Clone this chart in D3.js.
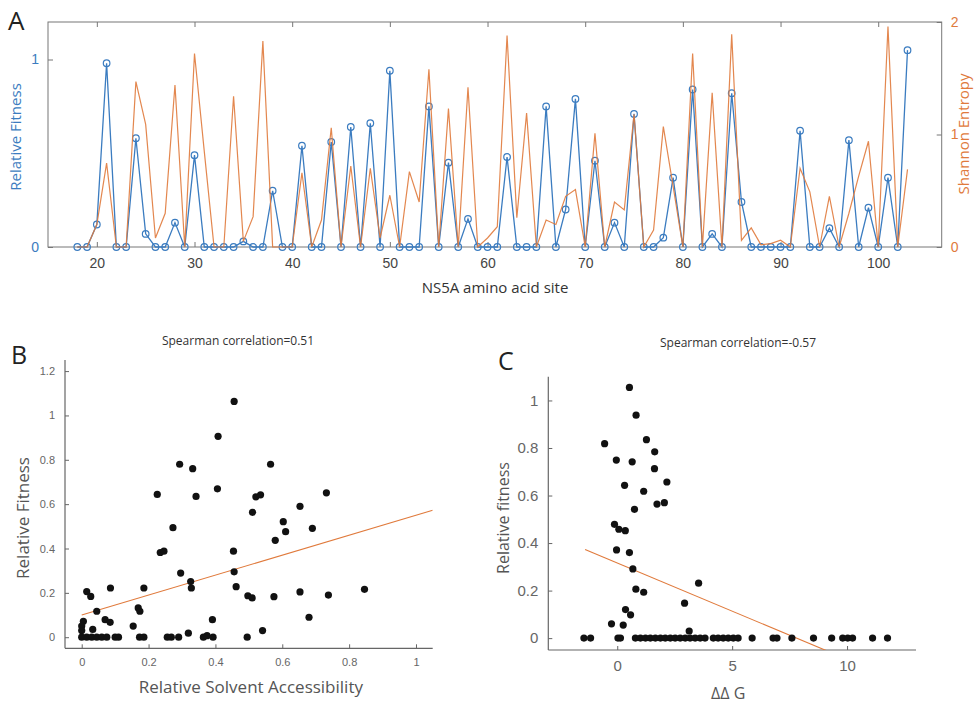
<!DOCTYPE html>
<html>
<head>
<meta charset="utf-8">
<script src="https://cdn.jsdelivr.net/npm/d3@7"></script>
<style>
  body { margin: 0; background: #fff; }
  svg { font-family: "Open Sans", "Noto Sans", sans-serif; }
</style>
</head>
<body>
<svg id="fig" width="976" height="704"></svg>
<script>
// colors (matlab-ish, a bit washed out like the scan)
var blue = "#3b7cc0";
var orange = "#e07a3c";
var gray = "#555";

// panel A data: NS5A sites 18..103
var sites = [18,19,20,21,22,23,24,25,26,27,28,29,30,31,32,33,34,35,36,37,38,39,40,
  41,42,43,44,45,46,47,48,49,50,51,52,53,54,55,56,57,58,59,60,61,62,63,64,65,66,67,
  68,69,70,71,72,73,74,75,76,77,78,79,80,81,82,83,84,85,86,87,88,89,90,91,92,93,94,
  95,96,97,98,99,100,101,102,103];
var fitness = [0,0,0.12,0.98,0,0,0.58,0.07,0,0,0.13,0,0.49,0,0,0,0,0.03,0,0,0.30,0,0,
  0.54,0,0,0.56,0,0.64,0,0.66,0,0.94,0,0,0,0.75,0,0.45,0,0.15,0,0,0,0.48,0,0,0,0.75,0,
  0.20,0.79,0,0.46,0,0.13,0,0.71,0,0,0.05,0.37,0,0.84,0,0.07,0,0.82,0.24,0,0,0,0,0,0.62,0,0,
  0.10,0,0.57,0,0.21,0,0.37,0,1.05];
var entropy = [0,0,0.2,0.745,0,0,1.47,1.09,0.08,0.3,1.44,0,1.72,0.85,0,0,1.34,0.05,0.27,1.83,0,0,0,
  0.66,0,0.24,1.06,0,0.72,0,0.70,0.08,0.46,0,0.67,0.40,1.58,0,1.23,0,1.42,0,0.08,0.18,1.88,0.26,1.19,0,0.24,0.2,
  0.45,0.51,0,1.01,0,0.40,0.33,1.18,0,0.15,1.07,0.54,0,1.72,0,1.37,0,1.89,0.06,0.17,0.02,0.03,0.06,0,0.70,0.49,0,
  0.45,0,0.30,0.63,0.94,0,1.96,0,0.69];
var siteTicks = [20,30,40,50,60,70,80,90,100];

// panel B: relative solvent accessibility vs fitness
var rsa = [0.456,0.408,0.293,0.332,0.565,0.406,0.226,0.342,0.732,0.521,0.535,0.511,0.653,0.603,0.61,0.69,
  0.579,0.273,0.235,0.246,0.454,0.296,0.456,0.326,0.328,0.462,0.497,0.51,0.575,0.653,0.738,0.846,0.68,0.541,
  0.495,0.391,0.319,0.364,0.375,0.393,0.256,0.268,0.29,0.186,0.169,0.174,0.154,0.173,0.186,0.086,0.015,0.027,
  0.045,0.07,0.085,0.005,0,0,0.033,0,0.015,0.03,0.045,0.06,0.075,0.1,0.11];
var rsaFit = [1.063,0.906,0.78,0.76,0.78,0.669,0.644,0.635,0.651,0.633,0.642,0.563,0.59,0.521,0.476,0.491,
  0.437,0.494,0.382,0.388,0.388,0.289,0.295,0.251,0.222,0.228,0.187,0.177,0.183,0.204,0.19,0.216,0.09,0.03,
  0,0.079,0.018,0,0.007,0,0,0,0,0.222,0.132,0.117,0.05,0,0,0.222,0.206,0.184,
  0.117,0.079,0.067,0.072,0.05,0.03,0.035,0,0,0,0,0,0,0,0];
var bLine = [0.10, 0.45]; // intercept, slope

// panel C: ddG vs fitness
var ddg = [0.53,0.82,-0.55,1.27,1.63,-0.04,0.65,1.62,2.16,0.32,1.15,1.73,2.05,0.75,-0.12,0.07,0.35,-0.03,0.53,
  0.68,0.81,1.15,3.54,2.93,0.36,0.58,-0.25,0.26,3.13,
  -1.45,-1.16,0.03,0.14,0.79,1.01,1.23,1.44,1.66,1.88,2.09,2.31,2.52,2.74,2.96,3.17,3.39,3.61,3.82,4.18,4.39,
  4.61,4.83,5.05,5.26,5.87,6.78,6.95,7.6,8.54,9.33,9.81,10.03,10.24,11.11,11.76];
var ddgFit = [1.055,0.938,0.818,0.835,0.784,0.749,0.742,0.713,0.657,0.643,0.618,0.564,0.57,0.542,0.479,0.458,0.452,0.371,0.36,
  0.291,0.206,0.193,0.231,0.147,0.12,0.098,0.06,0.055,0.03,
  0,0,0,0,0,0,0,0,0,0,0,0,0,0,0,0,0,0,0,0,0,0,0,0,0,0,0,0,0,0,0,0,0,0,0,0];
var cLine = [0.316, -0.0405];

var svg = d3.select("#fig");

// ---------- panel A ----------
var ax = d3.scaleLinear().domain([15, 106.5]).range([48, 941.7]);
var ayL = d3.scaleLinear().domain([0, 1.2]).range([247, 22]);
var ayR = d3.scaleLinear().domain([0, 2]).range([247, 22]);

var gA = svg.append("g");
gA.append("rect").attr("x", 48).attr("y", 22).attr("width", 941.7 - 48).attr("height", 225)
  .attr("fill", "none").attr("stroke", "#777").attr("stroke-width", 1);

// ticks bottom / top
gA.append("g").attr("transform", "translate(0,247)")
  .call(d3.axisBottom(ax).tickValues(siteTicks).tickSize(-5).tickPadding(11))
  .call(function(g){ g.select(".domain").remove(); });
gA.append("g").attr("transform", "translate(0,22)")
  .call(d3.axisTop(ax).tickValues(siteTicks).tickSize(-5).tickFormat(""))
  .call(function(g){ g.select(".domain").remove(); });
gA.append("g").attr("transform", "translate(48,0)")
  .call(d3.axisLeft(ayL).tickValues([0, 1]).tickSize(-5).tickPadding(9).tickFormat(d3.format("d")))
  .call(function(g){ g.select(".domain").remove(); g.selectAll("text").attr("fill", blue); });
gA.append("g").attr("transform", "translate(941.7,0)")
  .call(d3.axisRight(ayR).tickValues([0, 1, 2]).tickSize(-5).tickPadding(9).tickFormat(d3.format("d")))
  .call(function(g){ g.select(".domain").remove(); g.selectAll("text").attr("fill", orange); });
gA.selectAll(".tick line").attr("stroke", "#777");
gA.selectAll(".tick text").style("font-size", "14px").filter(function(){ return !this.getAttribute("fill") || this.getAttribute("fill") === "currentColor"; })
  .attr("fill", "#444");

var fitLine = d3.line().x(function(d, i){ return ax(sites[i]); }).y(function(d){ return ayL(d); });
var entLine = d3.line().x(function(d, i){ return ax(sites[i]); }).y(function(d){ return ayR(d); });

gA.append("path").datum(fitness).attr("d", fitLine)
  .attr("fill", "none").attr("stroke", blue).attr("stroke-width", 1.3);
gA.selectAll("circle.fit").data(fitness).enter().append("circle")
  .attr("class", "fit")
  .attr("cx", function(d, i){ return ax(sites[i]); })
  .attr("cy", function(d){ return ayL(d); })
  .attr("r", 3.3)
  .attr("fill", "none").attr("stroke", blue).attr("stroke-width", 1.2);
gA.append("path").datum(entropy).attr("d", entLine)
  .attr("fill", "none").attr("stroke", orange).attr("stroke-width", 1.2).attr("opacity", 0.9);

gA.append("text").attr("x", 17).attr("y", 137).attr("transform", "rotate(-90,17,137)")
  .attr("text-anchor", "middle").attr("dominant-baseline", "middle")
  .style("font-size", "15px").attr("fill", blue).text("Relative Fitness");
gA.append("text").attr("x", 965).attr("y", 134).attr("transform", "rotate(-90,965,134)")
  .attr("text-anchor", "middle").attr("dominant-baseline", "middle")
  .style("font-size", "15px").attr("fill", orange).text("Shannon Entropy");
gA.append("text").attr("x", 495).attr("y", 293).attr("text-anchor", "middle")
  .style("font-size", "15px").attr("fill", "#333").text("NS5A amino acid site");
gA.append("text").attr("x", 8).attr("y", 30).style("font-size", "26px").attr("fill", "#222").text("A");

// ---------- scatter panels ----------
function scatter(opts) {
  var g = svg.append("g");
  var x = d3.scaleLinear().domain(opts.xd).range(opts.xr);
  var y = d3.scaleLinear().domain(opts.yd).range(opts.yr);

  g.append("g").attr("transform", "translate(0," + opts.yr[0] + ")")
    .call(d3.axisBottom(x).tickValues(opts.xt).tickSize(-4).tickPadding(opts.pad).tickFormat(d3.format("~g")))
    .call(function(a){ a.select(".domain").attr("d", "M" + opts.xr[0] + ",0H" + opts.xr[1]); });
  g.append("g").attr("transform", "translate(" + opts.xr[0] + ",0)")
    .call(d3.axisLeft(y).tickValues(opts.yt).tickSize(-4).tickPadding(opts.pad).tickFormat(d3.format("~g")))
    .call(function(a){ a.select(".domain").attr("d", "M0," + opts.yr[0] + "V" + opts.yr[1]); });
  g.selectAll(".domain").attr("stroke", "#666").attr("stroke-width", 1.2);
  g.selectAll(".tick line").attr("stroke", "#666");
  g.selectAll(".tick text").attr("fill", "#666").style("font-size", opts.tickFont + "px");

  // fit line, clipped to the axes box
  var clipId = "clip" + opts.name;
  g.append("clipPath").attr("id", clipId).append("rect")
    .attr("x", opts.xr[0]).attr("y", opts.yr[1]).attr("width", opts.xr[1] - opts.xr[0]).attr("height", opts.yr[0] - opts.yr[1]);
  g.append("line").attr("clip-path", "url(#" + clipId + ")")
    .attr("x1", x(opts.lx[0])).attr("y1", y(opts.fit[0] + opts.fit[1] * opts.lx[0]))
    .attr("x2", x(opts.lx[1])).attr("y2", y(opts.fit[0] + opts.fit[1] * opts.lx[1]))
    .attr("stroke", orange).attr("stroke-width", 1.1);

  g.selectAll("circle").data(opts.xs).enter().append("circle")
    .attr("cx", function(d){ return x(d); })
    .attr("cy", function(d, i){ return y(opts.ys[i]); })
    .attr("r", 3.6).attr("fill", "#111");

  g.append("text").attr("x", opts.title[0]).attr("y", opts.title[1]).attr("text-anchor", "middle")
    .style("font-size", "12px").attr("fill", "#333").text(opts.titleText);
  g.append("text").attr("x", (opts.xr[0] + opts.xr[1]) / 2 + opts.xlOff).attr("y", opts.xlY).attr("text-anchor", "middle")
    .style("font-size", opts.labFont + "px").attr("fill", "#555").text(opts.xLabel);
  g.append("text").attr("x", opts.ylX).attr("y", 518).attr("transform", "rotate(-90," + opts.ylX + ",518)")
    .attr("text-anchor", "middle").attr("dominant-baseline", "middle")
    .style("font-size", opts.labFont + "px").attr("fill", "#555").text(opts.yLabel);
  g.append("text").attr("x", opts.letter[0]).attr("y", opts.letter[1]).style("font-size", "25px")
    .attr("fill", "#222").text(opts.name);
}

scatter({
  name: "B", xs: rsa, ys: rsaFit, fit: bLine, lx: [0, 1.05],
  xd: [-0.05, 1.05], xr: [65, 432.7], yd: [-0.05, 1.25], yr: [648.3, 360],
  xt: [0, 0.2, 0.4, 0.6, 0.8, 1], yt: [0, 0.2, 0.4, 0.6, 0.8, 1, 1.2],
  pad: 10, tickFont: 11, labFont: 17,
  title: [238, 345], titleText: "Spearman correlation=0.51",
  xLabel: "Relative Solvent Accessibility", xlOff: 2, xlY: 693, yLabel: "Relative Fitness", ylX: 24,
  letter: [11, 364]
});

scatter({
  name: "C", xs: ddg, ys: ddgFit, fit: cLine, lx: [-1.4, 12],
  xd: [-3, 13], xr: [548.3, 916], yd: [-0.05, 1.1], yr: [650, 376.7],
  xt: [0, 5, 10], yt: [0, 0.2, 0.4, 0.6, 0.8, 1],
  pad: 10, tickFont: 15, labFont: 16,
  title: [738, 347], titleText: "Spearman correlation=-0.57",
  xLabel: "\u0394\u0394 G", xlOff: -4, xlY: 699, yLabel: "Relative fitness", ylX: 505,
  letter: [498, 370]
});
</script>
</body>
</html>
